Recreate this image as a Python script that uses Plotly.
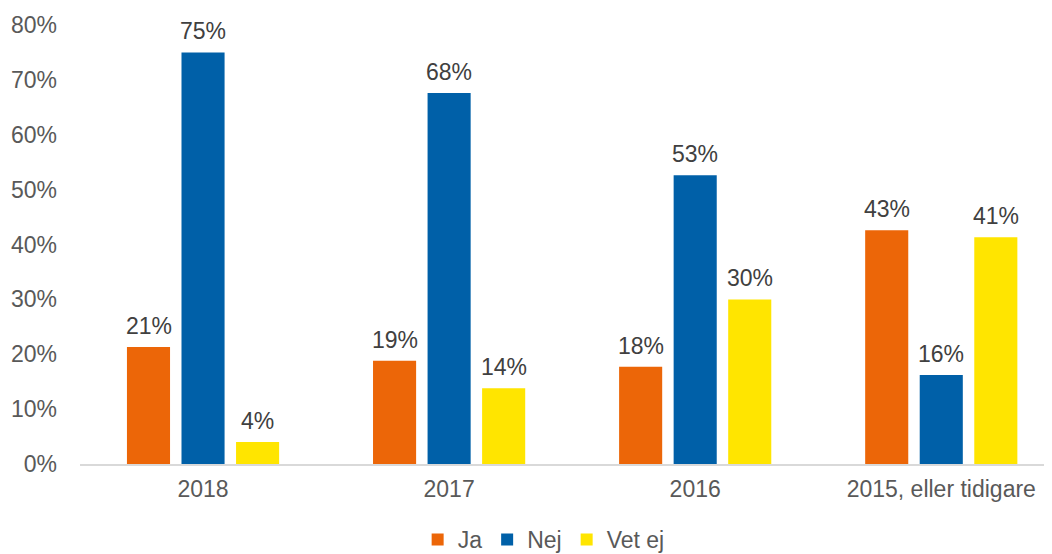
import plotly.graph_objects as go

categories = ["2018", "2017", "2016", "2015, eller tidigare"]
ja = [21.3, 18.8, 17.7, 42.6]
nej = [75.0, 67.6, 52.6, 16.2]
vet_ej = [4.0, 13.8, 30.0, 41.3]

series = [("Ja", ja, "#EC6608"), ("Nej", nej, "#0060A8"), ("Vet ej", vet_ej, "#FFE500")]
label_shift = [-54.5, 0, 54.5]

fig = go.Figure()
annotations = []
for (name, vals, color), dx in zip(series, label_shift):
    fig.add_trace(go.Bar(
        name=name, x=categories, y=vals, marker_color=color, marker_line_width=0,
    ))
    for i, v in enumerate(vals):
        annotations.append(dict(
            x=i, y=v, xref="x", yref="y", text=f"{round(v)}%", showarrow=False,
            xanchor="center", yanchor="bottom", xshift=dx, yshift=6,
            font=dict(size=23, color="#404040"),
        ))

fig.update_layout(
    width=1052, height=554,
    margin=dict(l=72, r=8, t=17, b=98, autoexpand=False),
    paper_bgcolor="white", plot_bgcolor="white",
    font=dict(family="Liberation Sans, Arial, sans-serif", size=23, color="#595959"),
    barmode="group", bargap=0.335, bargroupgap=0.21,
    annotations=annotations,
    legend=dict(orientation="h", x=0.477, xanchor="center", y=-0.172, yanchor="middle",
                font=dict(size=23, color="#595959"), itemwidth=30, tracegroupgap=0),
    xaxis=dict(type="category", range=[-0.5, 3.45], showline=True, linecolor="#D9D9D9", linewidth=1.5,
               showgrid=False, ticks="", ticklabelstandoff=4, automargin=False),
    yaxis=dict(range=[0, 80], dtick=10, ticksuffix="%", showgrid=False, zeroline=False,
               showline=False, ticklabelstandoff=22, automargin=False),
)

fig.write_html("out.html")
